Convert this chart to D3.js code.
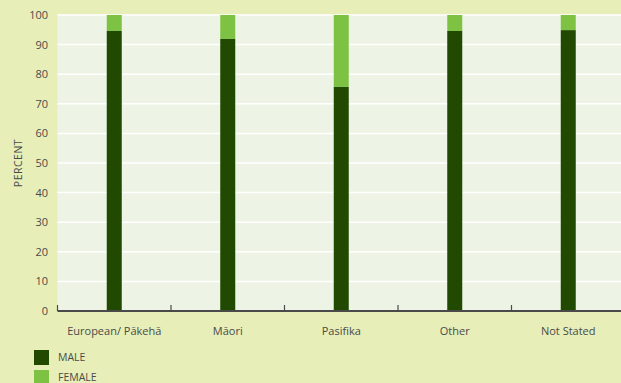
<!DOCTYPE html>
<html><head><meta charset="utf-8">
<script src="https://cdn.jsdelivr.net/npm/d3@7"></script>
<style>
body{margin:0;background:#e7eeb8;}
text{font-family:"Open Sans","DejaVu Sans Condensed",sans-serif;fill:#4a4a4a;}
</style></head>
<body><svg id="c" width="621" height="383"></svg>
<script>
const categories = ["European/ Pākehā","Māori","Pasifika","Other","Not Stated"];
const male = [94.6, 91.9, 75.7, 94.6, 94.9];
const female = [5.4, 8.1, 24.3, 5.4, 5.1];
const yTicks = [0,10,20,30,40,50,60,70,80,90,100];
const seriesNames = ["MALE","FEMALE"];
const colors = ["#214a00","#7dc243"];

const svg = d3.select("#c");
svg.append("rect").attr("width",621).attr("height",383).attr("fill","#e7eeb8");
const L = 57.5, R = 625, T = 15, B = 311;
const x = d3.scaleBand().domain(categories).range([L,R]);
const y = d3.scaleLinear().domain([0,100]).range([B,T]);

svg.append("rect").attr("x",L).attr("y",T).attr("width",R-L).attr("height",B-T).attr("fill","#eef4e5");
svg.selectAll("line.grid").data(yTicks.filter(d=>d>0)).join("line")
  .attr("x1",L).attr("x2",R).attr("y1",d=>y(d)).attr("y2",d=>y(d))
  .attr("stroke","#ffffff").attr("stroke-width",1.5);

const data = categories.map((c,i)=>({c, m:male[i], f:female[i]}));
const bw = 15;
const g = svg.append("g");
g.selectAll("rect.m").data(data).join("rect")
  .attr("x",d=>x(d.c)+x.bandwidth()/2-bw/2).attr("width",bw)
  .attr("y",d=>y(d.m)).attr("height",d=>y(0)-y(d.m)).attr("fill",colors[0]);
g.selectAll("rect.f").data(data).join("rect")
  .attr("x",d=>x(d.c)+x.bandwidth()/2-bw/2).attr("width",bw)
  .attr("y",d=>y(d.m+d.f)).attr("height",d=>y(d.m)-y(d.m+d.f)).attr("fill",colors[1]);

// y tick labels
svg.selectAll("text.yt").data(yTicks).join("text")
  .attr("x",48).attr("y",d=>y(d)+4).attr("text-anchor","end")
  .attr("font-size",11).text(d=>d);

// x axis
svg.append("line").attr("x1",L).attr("x2",621).attr("y1",B).attr("y2",B)
  .attr("stroke","#4a4a4a").attr("stroke-width",2);
const bounds = categories.map(c=>x(c));
svg.selectAll("line.xt").data(bounds).join("line")
  .attr("x1",d=>d).attr("x2",d=>d).attr("y1",B-6).attr("y2",B)
  .attr("stroke","#4a4a4a").attr("stroke-width",1.2);
svg.selectAll("text.xl").data(categories).join("text")
  .attr("x",d=>x(d)+x.bandwidth()/2).attr("y",335).attr("text-anchor","middle")
  .attr("font-size",11).text(d=>d);

// y label
svg.append("text").attr("transform","translate(22,163) rotate(-90)")
  .attr("text-anchor","middle").attr("font-size",10.5).attr("letter-spacing",0.5).text("PERCENT");

// legend
const lg = svg.selectAll("g.lg").data(seriesNames).join("g")
  .attr("transform",(d,i)=>`translate(34,${350+i*20})`);
lg.append("rect").attr("width",15).attr("height",15).attr("fill",(d,i)=>colors[i]);
lg.append("text").attr("x",24).attr("y",10.5).attr("font-size",10.5).text(d=>d);
</script></body></html>
